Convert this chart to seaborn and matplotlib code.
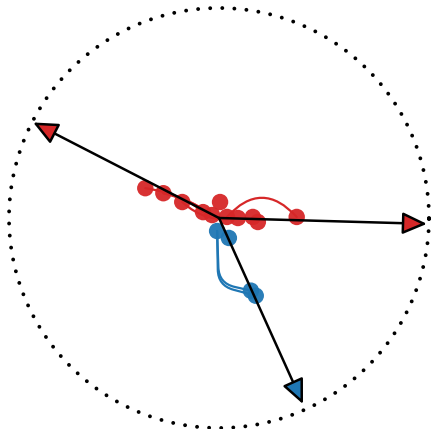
import numpy as np
import pandas as pd
import matplotlib
matplotlib.use('Agg')
import matplotlib.pyplot as plt
import seaborn as sns

# 점 좌표 (단위원 기준)
red_x = [-0.351, -0.265, -0.175, -0.076, -0.033, 0.005, 0.038, 0.090, 0.161, 0.185, 0.370]
red_y = [0.142, 0.118, 0.076, 0.028, 0.014, 0.076, 0.005, 0.000, 0.005, -0.019, 0.005]
blue_x = [-0.009, 0.047, 0.152, 0.175]
blue_y = [-0.062, -0.095, -0.346, -0.370]

# 화살표 끝점 (원 위)
arrow_x = [-0.885, 0.990, 0.400]
arrow_y = [0.455, -0.028, -0.886]
arrow_group = ['red', 'red', 'blue']

# 곡선 연결 (시작점, 끝점, 연결 스타일)
red_links = [(0, 4, 'arc3,rad=-0.12'), (1, 3, 'arc3,rad=-0.15'), (1, 4, 'arc3,rad=-0.1'),
             (6, 10, 'arc3,rad=-0.55'), (2, 7, 'arc3,rad=0.25')]
blue_links = [(0, 2, 'angle,angleA=92,angleB=-13,rad=16'),
              (0, 3, 'angle,angleA=91,angleB=-15,rad=16')]

palette = {'red': '#d62728', 'blue': '#1f77b4'}

df = pd.DataFrame({
    'x': red_x + blue_x,
    'y': red_y + blue_y,
    'group': ['red'] * len(red_x) + ['blue'] * len(blue_x),
})

fig = plt.figure(figsize=(4.33, 4.29), dpi=100)
ax = fig.add_axes([0, 0, 1, 1])

# 점선 원
t = np.linspace(0, 2 * np.pi, 600)
ax.plot(np.cos(t), np.sin(t), color='black', lw=2.8, linestyle=(0, (0.01, 3.1)),
        dash_capstyle='round', zorder=1)

# 곡선
for xs, ys, links, g in [(red_x, red_y, red_links, 'red'), (blue_x, blue_y, blue_links, 'blue')]:
    for i, j, cs in links:
        ax.annotate('', xy=(xs[j], ys[j]), xytext=(xs[i], ys[i]),
                    arrowprops=dict(arrowstyle='-', color=palette[g], lw=1.6,
                                    connectionstyle=cs,
                                    shrinkA=0, shrinkB=0), zorder=2)

sns.scatterplot(data=df, x='x', y='y', hue='group', palette=palette, s=140,
                edgecolor='none', alpha=0.95, legend=False, ax=ax, zorder=3)

# 화살표
for ax_, ay_, g in zip(arrow_x, arrow_y, arrow_group):
    ax.annotate('', xy=(ax_, ay_), xytext=(0, 0),
                arrowprops=dict(arrowstyle='-|>,head_length=1.0,head_width=0.45',
                                fc=palette[g], ec='black', lw=1.8,
                                mutation_scale=15, shrinkA=0, shrinkB=0), zorder=4)

ax.set_xlim(-219 / 210, (433 - 219) / 210)
ax.set_ylim(-(429 - 218) / 210, 218 / 210)
ax.set_aspect('equal')
ax.axis('off')

fig.savefig('out.png', dpi=100)
